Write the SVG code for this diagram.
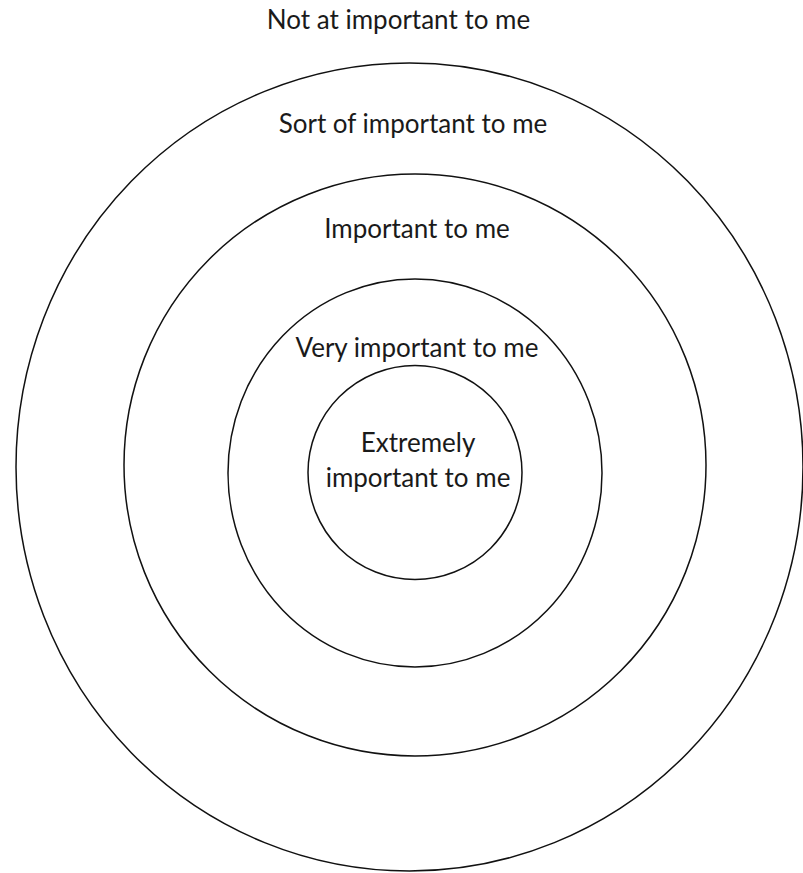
<svg xmlns="http://www.w3.org/2000/svg" width="803" height="873" viewBox="0 0 803 873">
<style>
.ring{fill:none;stroke:#111;stroke-width:1.5}
.lbl{font-family:Lato,"Open Sans","Liberation Sans",sans-serif;font-size:26px;fill:#1a1a1a;text-anchor:middle}
</style>
<rect width="803" height="873" fill="#fff"/>
<g id="ring-not-at">
<ellipse class="ring" cx="409.5" cy="467" rx="393.5" ry="404"/>
<text class="lbl" x="398.5" y="29">Not at important to me</text>
</g>
<g id="ring-sort-of">
<circle class="ring" cx="415" cy="465" r="291"/>
<text class="lbl" x="413" y="133">Sort of important to me</text>
</g>
<g id="ring-important">
<ellipse class="ring" cx="415" cy="473" rx="187" ry="194"/>
<text class="lbl" x="417" y="238">Important to me</text>
</g>
<g id="ring-very">
<circle class="ring" cx="415" cy="472.5" r="107"/>
<text class="lbl" x="417" y="357">Very important to me</text>
</g>
<g id="ring-extremely">
<text class="lbl" x="418" y="452">Extremely</text>
<text class="lbl" x="418" y="487">important to me</text>
</g>
</svg>
